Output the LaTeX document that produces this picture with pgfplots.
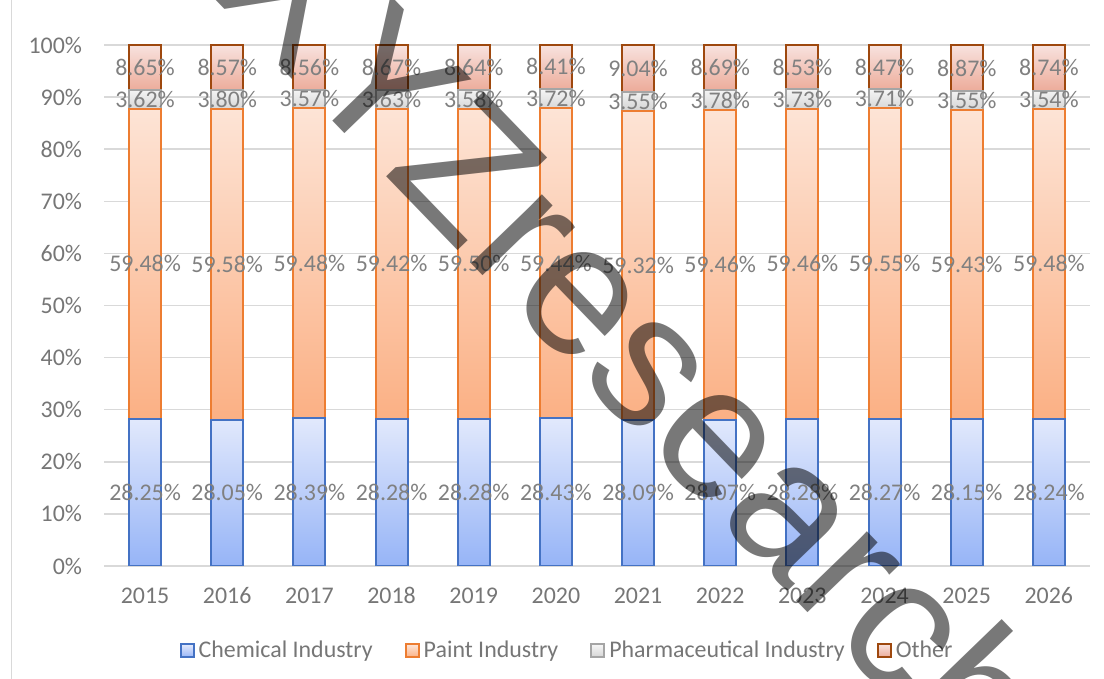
\documentclass[border=0pt]{standalone}
\usepackage{fontspec}
\setmainfont{Carlito}
\newfontfamily\wmfont{Liberation Sans}
\usepackage{pgfplots}
\usepackage{pgfplotstable}
\pgfplotsset{compat=1.18}

\definecolor{chemline}{RGB}{68,114,196}
\definecolor{chemtop}{RGB}{226,233,252}
\definecolor{chembot}{RGB}{150,180,247}
\definecolor{paintline}{RGB}{237,125,49}
\definecolor{painttop}{RGB}{253,228,214}
\definecolor{paintbot}{RGB}{251,176,132}
\definecolor{pharmline}{RGB}{165,165,165}
\definecolor{pharmtop}{RGB}{246,246,246}
\definecolor{pharmbot}{RGB}{212,212,212}
\definecolor{othline}{RGB}{158,72,14}
\definecolor{othtop}{RGB}{248,226,222}
\definecolor{othbot}{RGB}{236,170,152}
\definecolor{gridc}{RGB}{217,217,217}
\definecolor{txt}{RGB}{118,118,118}
\definecolor{lab}{RGB}{128,128,128}

% share by application, %
\pgfplotstableread{
year chem paint pharm other
2015 28.25 59.48 3.62 8.65
2016 28.05 59.58 3.80 8.57
2017 28.39 59.48 3.57 8.56
2018 28.28 59.42 3.63 8.67
2019 28.28 59.50 3.58 8.64
2020 28.43 59.44 3.72 8.41
2021 28.09 59.32 3.55 9.04
2022 28.07 59.46 3.78 8.69
2023 28.28 59.46 3.73 8.53
2024 28.27 59.55 3.71 8.47
2025 28.15 59.43 3.55 8.87
2026 28.24 59.48 3.54 8.74
}\share

\newcommand\chartfont{\fontsize{12}{14.4}\selectfont}

\pgfplotsset{
  base/.style={
    width=493bp, height=260.5bp, scale only axis,
    at={(52bp,56.5bp)}, anchor=south west,
    xmin=2014.5, xmax=2026.5, ymin=0, ymax=100,
  },
}

\begin{document}
\begin{tikzpicture}
\useasboundingbox (0,0) rectangle (552bp,339.5bp);
\draw[gridc, line width=0.5bp] (5.5bp,0) -- (5.5bp,339.5bp);

\begin{axis}[
  base,
  ybar stacked,
  bar width=16bp,
  ytick={0,10,...,100},
  yticklabels={0\%,10\%,20\%,30\%,40\%,50\%,60\%,70\%,80\%,90\%,100\%},
  xtick={2015,...,2026},
  xticklabels={2015,2016,2017,2018,2019,2020,2021,2022,2023,2024,2025,2026},
  ymajorgrids,
  grid style={gridc, line width=0.75bp},
  axis line style={draw=none},
  major tick length=0pt,
  tick label style={font=\chartfont, text=txt},
  yticklabel style={xshift=-7.5bp},
  xticklabel style={yshift=-7.5bp, text height=7.6bp, text depth=0pt},
  legend columns=4,
  legend style={at={(0.4706,-0.163)}, anchor=center, draw=none, fill=none,
    font=\chartfont, text=txt,
    /tikz/every even column/.append style={column sep=14bp}},
  legend image code/.code={\draw[#1] (0bp,-3.25bp) rectangle (6.5bp,3.25bp);},
]
\addplot[draw=chemline, line width=1bp, top color=chemtop, bottom color=chembot]
  table[x=year, y=chem]{\share};
\addplot[draw=paintline, line width=1bp, top color=painttop, bottom color=paintbot]
  table[x=year, y=paint]{\share};
\addplot[draw=pharmline, line width=1bp, top color=pharmtop, bottom color=pharmbot]
  table[x=year, y=pharm]{\share};
\addplot[draw=othline, line width=1bp, top color=othtop, bottom color=othbot]
  table[x=year, y=other]{\share};
\legend{Chemical Industry, Paint Industry, Pharmaceutical Industry, Other}
\end{axis}

% data labels at the middle of each segment
\begin{axis}[
  base, hide axis,
  point meta=explicit symbolic,
  nodes near coords={\pgfplotspointmeta\%},
  nodes near coords style={anchor=center, font=\chartfont, text=lab},
]
\addplot[draw=none, mark=none] table[x=year, y expr=\thisrow{chem}/2, meta=chem]{\share};
\addplot[draw=none, mark=none] table[x=year, y expr=\thisrow{chem}+\thisrow{paint}/2, meta=paint]{\share};
\addplot[draw=none, mark=none] table[x=year, y expr=\thisrow{chem}+\thisrow{paint}+\thisrow{pharm}/2, meta=pharm]{\share};
\addplot[draw=none, mark=none] table[x=year, y expr=\thisrow{chem}+\thisrow{paint}+\thisrow{pharm}+\thisrow{other}/2, meta=other]{\share};
\end{axis}

% watermark
\node[rotate=-46, anchor=base, text=black, text opacity=0.53,
  font=\wmfont\fontsize{94}{110}\selectfont] at (294.3bp,146.5bp) {XYZresearch};
\end{tikzpicture}
\end{document}
